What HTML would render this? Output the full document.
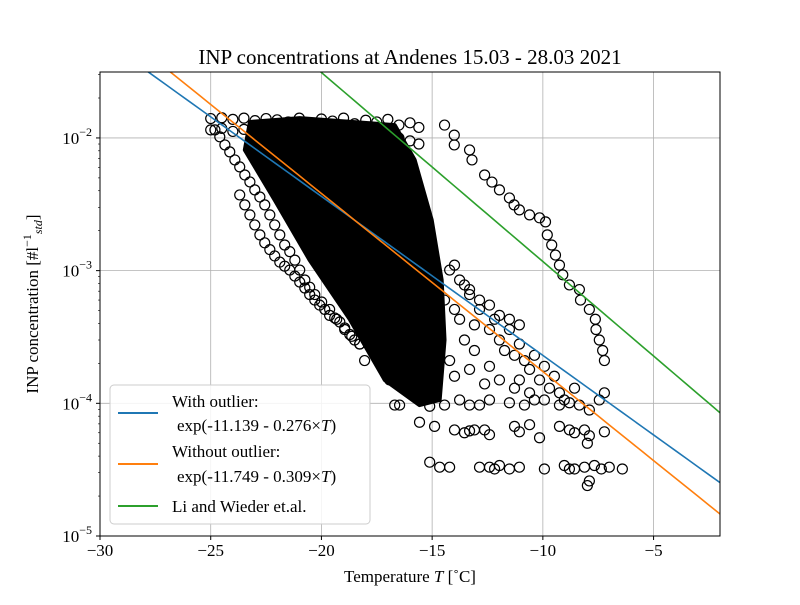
<!DOCTYPE html>
<html><head><meta charset="utf-8"><style>
body{margin:0;background:#fff}
svg{font-family:"Liberation Serif","DejaVu Serif",serif}
</style></head><body>
<svg id="chart" width="800" height="600" xmlns="http://www.w3.org/2000/svg">
<rect width="800" height="600" fill="#fff"/>
<defs><clipPath id="plotclip"><rect x="100" y="72" width="620" height="464"/></clipPath></defs>
<text x="410" y="64" text-anchor="middle" font-size="21">INP concentrations at Andenes 15.03 - 28.03 2021</text>
<g id="grid"></g>
<g id="marks" clip-path="url(#plotclip)"></g>
<g id="lines" clip-path="url(#plotclip)"></g>
<rect x="100" y="72" width="620" height="464" fill="none" stroke="#000" stroke-width="1"/>
<g id="axes"></g>
<text x="410" y="582" text-anchor="middle" font-size="17">Temperature <tspan font-style="italic">T</tspan> [˚C]</text>
<text transform="translate(38,304) rotate(-90)" text-anchor="middle" font-size="17">INP concentration [#l<tspan font-size="12" dy="-7">−1</tspan><tspan font-size="12" font-style="italic" dy="11">std</tspan><tspan dy="-4">]</tspan></text>
<g>
<rect x="110" y="385" width="260" height="139" rx="4" fill="#fff" fill-opacity="0.85" stroke="#ccc"/>
<line x1="118" y1="413" x2="158" y2="413" stroke="#1f77b4" stroke-width="2"/>
<text x="172" y="407" font-size="17">With outlier:</text>
<text x="177" y="431" font-size="17">exp(-11.139 - 0.276×<tspan font-style="italic">T</tspan>)</text>
<line x1="118" y1="464" x2="158" y2="464" stroke="#ff7f0e" stroke-width="2"/>
<text x="172" y="457" font-size="17">Without outlier:</text>
<text x="177" y="482" font-size="17">exp(-11.749 - 0.309×<tspan font-style="italic">T</tspan>)</text>
<line x1="118" y1="506" x2="158" y2="506" stroke="#2ca02c" stroke-width="2"/>
<text x="172" y="512" font-size="17">Li and Wieder et.al.</text>
</g>
</svg>
<script>
const xTicks=[-30,-25,-20,-15,-10,-5];
const yTickExp=[-5,-4,-3,-2];
const coreT=[-23.23,-20.98,-16.69,-15.79,-15.02,-14.57,-14.44,-14.66,-15.57,-17.14,-18.72,-20.53,-22.11,-23.46];
const coreV=[0.0132,0.0141,0.0125,0.00683,0.00241,0.00085,0.00030,0.000106,0.000097,0.00015,0.00043,0.00120,0.00341,0.00812];
const topT=[-25,-24.5,-24,-23.5,-23,-22.5,-22,-21.5,-21,-20.5,-20,-19.5,-19,-18.5,-18,-17.5,-17,-16.5,-16,-15.6];
const topV=[0.0140,0.0142,0.0138,0.0141,0.0135,0.0140,0.0137,0.0132,0.0141,0.0130,0.0139,0.0134,0.0141,0.0128,0.0136,0.0132,0.0138,0.0125,0.0130,0.0120];
const top2V=[0.0115,0.0118,0.0112,0.0116,0.0110,0.0117,0.0113,0.0111,0.0116,0.0110,0.0115,0.0112,0.0117,0.0109,0.0113,0.0110,0.0106,0.0100,0.0095,0.0090];
const outT=[-14.44,-14.0,-14.0,-13.31,-13.2,-12.63,-12.3,-11.96,-11.51,-11.3,-11.06,-10.6,-10.15,-9.88,-9.8,-9.6,-9.43,-9.25,-9.1,-8.8,-8.35,-8.3,-7.9,-7.63,-7.6,-7.45,-7.3,-7.22];
const outV=[0.0125,0.0105,0.00886,0.00812,0.00683,0.00526,0.00465,0.00406,0.00353,0.00313,0.00287,0.00263,0.00250,0.00233,0.00186,0.00156,0.00131,0.00110,0.00093,0.00078,0.00072,0.00060,0.00051,0.00043,0.00036,0.00030,0.00025,0.00021];
const band1T=[-24.81,-24.36,-23.91,-23.46,-23.01,-22.56,-22.11,-21.66,-21.20,-20.75,-20.30,-19.63,-18.95,-18.27,-24.59,-24.14,-23.69,-23.23,-22.78,-22.33,-21.88,-21.43,-20.98,-20.53,-19.99,-19.31,-18.63];
const band1V=[0.0115,0.00886,0.00683,0.00526,0.00406,0.00313,0.00221,0.00156,0.00120,0.00085,0.00066,0.00051,0.00036,0.00028,0.0102,0.00785,0.00605,0.00466,0.00359,0.00263,0.00186,0.00139,0.00101,0.00075,0.00058,0.00043,0.00032];
const band2T=[-23.69,-23.23,-22.78,-22.33,-21.88,-21.43,-20.98,-20.53,-20.08,-19.63,-19.17,-18.72,-18.27,-18.05,-23.46,-23.01,-22.56,-22.11,-21.66,-21.20,-20.75,-20.30,-19.85,-19.40,-18.95,-18.50];
const band2V=[0.00372,0.00263,0.00186,0.00144,0.00116,0.00101,0.00082,0.00066,0.00055,0.00046,0.00041,0.00033,0.00028,0.00021,0.00313,0.00221,0.00162,0.00129,0.00108,0.00091,0.00074,0.00060,0.00051,0.00044,0.00037,0.00030];
const band3T=[-23.23,-22.78,-22.33,-21.88,-21.43,-20.98,-20.53,-20.08,-19.63,-19.17,-18.72];
const band3V=[0.00812,0.00626,0.00483,0.00372,0.00287,0.00221,0.00171,0.00132,0.00110,0.00093,0.00072];
const band4T=[-22.33,-21.66,-20.98,-20.30,-19.63,-18.95,-18.27,-17.60,-16.92,-16.47];
const band4V=[0.00812,0.00574,0.00406,0.00287,0.00186,0.00132,0.00093,0.00060,0.00043,0.00028];
const cloudT=[-15.57,-14.89,-14.44,-13.99,-13.76,-13.31,-13.09,-12.86,-12.41,-12.18,-11.96,-11.73,-11.51,-11.28,-11.06,-10.83,-10.60,-10.38,-10.15,-9.93,-9.70,-9.48,-9.25,-9.03,-8.57,-8.35,-7.90,-7.45,-7.22,-13.09,-13.54,-14.21,-14.66,-15.11,-13.99,-13.31,-12.41,-12.63,-11.96,-11.28,-10.60,-9.93,-11.06,-16.02,-15.57,-16.92,-16.69,-14.21,-13.76,-13.31,-12.86,-12.41,-11.96,-11.51,-11.06,-13.99,-13.54];
const cloudV=[0.00060,0.00055,0.00060,0.00051,0.00043,0.00066,0.00039,0.00051,0.00036,0.00043,0.00030,0.00025,0.00036,0.00023,0.00028,0.00021,0.00018,0.00023,0.00015,0.00019,0.00013,0.00016,0.00012,0.000106,0.00013,0.000097,0.000089,0.000106,0.00012,0.00025,0.00030,0.00021,0.00028,0.00016,0.00016,0.00018,0.00019,0.00014,0.00015,0.00013,0.00012,0.000106,0.00015,0.00014,0.00018,0.00015,0.000097,0.00101,0.00085,0.00072,0.00060,0.00055,0.00046,0.00043,0.00039,0.0011,0.00078];
const row1T=[-16.47,-15.11,-14.44,-13.76,-13.31,-12.86,-12.41,-11.51,-10.83,-10.38,-9.25,-8.80];
const row1V=[0.000097,0.000095,0.000097,0.000106,0.000097,0.000097,0.000106,0.000101,0.000097,0.000106,0.000097,0.000101];
const row2T=[-15.57,-14.89,-13.99,-13.54,-13.31,-13.09,-12.63,-12.41,-11.28,-11.06,-10.60,-10.15,-9.25,-8.80,-8.57,-8.12,-7.90,-7.99,-7.22];
const row2V=[0.000072,0.000067,0.000063,0.000060,0.000062,0.000063,0.000063,0.000058,0.000067,0.000061,0.000069,0.000055,0.000067,0.000063,0.000060,0.000063,0.000057,0.000050,0.000061];
const row3T=[-15.11,-14.66,-14.21,-12.86,-12.41,-12.18,-11.96,-11.51,-11.06,-9.93,-9.03,-8.80,-8.57,-8.12,-7.67,-7.36,-7.90,-7.99,-7.00,-6.41];
const row3V=[0.000036,0.000033,0.000033,0.000033,0.000033,0.000032,0.000034,0.000032,0.000033,0.000032,0.000034,0.000032,0.000032,0.000033,0.000034,0.000032,0.000026,0.000024,0.000033,0.000032];
const fitA=[-11.139,-11.749,-10.03];
const fitB=[-0.276,-0.309,-0.328];
const fitColors=['#1f77b4','#ff7f0e','#2ca02c'];
const fitNames=['fit-line-with-outlier','fit-line-without-outlier','li-wieder-line'];

const NS='http://www.w3.org/2000/svg';
const X0=100,X1=720,Y0=72,Y1=536,TMIN=-30,TMAX=-2,LMIN=-5,LMAX=-1.503;
function xs(t){return X0+(t-TMIN)/(TMAX-TMIN)*(X1-X0);}
function ys(v){return Y1-(Math.log10(v)-LMIN)/(LMAX-LMIN)*(Y1-Y0);}
function mk(tag,attrs,parent){const e=document.createElementNS(NS,tag);for(const k in attrs)e.setAttribute(k,attrs[k]);parent.appendChild(e);return e;}
const grid=document.getElementById('grid'),axes=document.getElementById('axes'),marks=document.getElementById('marks'),lines=document.getElementById('lines');
xTicks.forEach(t=>{
  const x=xs(t);
  const g=mk('line',{x1:x,x2:x,y1:Y0,y2:Y1,stroke:'#b0b0b0','stroke-width':0.8},grid);
  
  
  const tk=mk('line',{x1:x,x2:x,y1:Y1,y2:Y1+4,stroke:'#000'},axes);
  
  
  const tx=mk('text',{x:x,y:Y1+20,'text-anchor':'middle','font-size':17},axes);
  tx.textContent=(t<0?'−':'')+Math.abs(t);
  
  
});
yTickExp.forEach(e=>{
  const y=ys(Math.pow(10,e));
  const g=mk('line',{x1:X0,x2:X1,y1:y,y2:y,stroke:'#b0b0b0','stroke-width':0.8},grid);
  
  
  const tk=mk('line',{x1:X0-4,x2:X0,y1:y,y2:y,stroke:'#000'},axes);
  
  
  const tx=mk('text',{x:X0-8,y:y+6,'text-anchor':'end','font-size':17},axes);
  tx.innerHTML='10<tspan font-size="12" dy="-8">−'+Math.abs(e)+'</tspan>';
  
  
  for(let m=2;m<10;m++){const v=m*Math.pow(10,e);const yy=ys(v);if(yy<Y0)continue;
    const mt=mk('line',{x1:X0-2,x2:X0,y1:yy,y2:yy,stroke:'#000','stroke-width':0.6},axes);
    
    }
});
const core=mk('polygon',{points:coreT.map((t,i)=>xs(t)+','+ys(coreV[i])).join(' '),fill:'#000',stroke:'#000','stroke-width':4,'stroke-linejoin':'round'},marks);


function scatter(T,V,name){T.forEach((t,i)=>{
  const c=mk('circle',{cx:xs(t),cy:ys(V[i]),r:5,fill:'none',stroke:'#000','stroke-width':1.2},marks);
  
  
});}
scatter(topT,topV,'point-top-row');
scatter(topT,top2V,'point-top-row');
scatter(outT,outV,'point-outlier');
scatter(band1T,band1V,'point-band');
scatter(band2T,band2V,'point-band');
scatter(band3T,band3V,'point-band');
scatter(band4T,band4V,'point-band');
scatter(cloudT,cloudV,'point-cloud');
scatter(row1T,row1V,'point-low');
scatter(row2T,row2V,'point-low');
scatter(row3T,row3V,'point-low');
fitA.forEach((a,i)=>{
  const pts=[];for(let t=TMIN;t<=TMAX+0.01;t+=0.5)pts.push(xs(t)+','+ys(Math.exp(a+fitB[i]*t)));
  const p=mk('polyline',{points:pts.join(' '),fill:'none',stroke:fitColors[i],'stroke-width':1.6},lines);
  
  
});
</script>
</body></html>
